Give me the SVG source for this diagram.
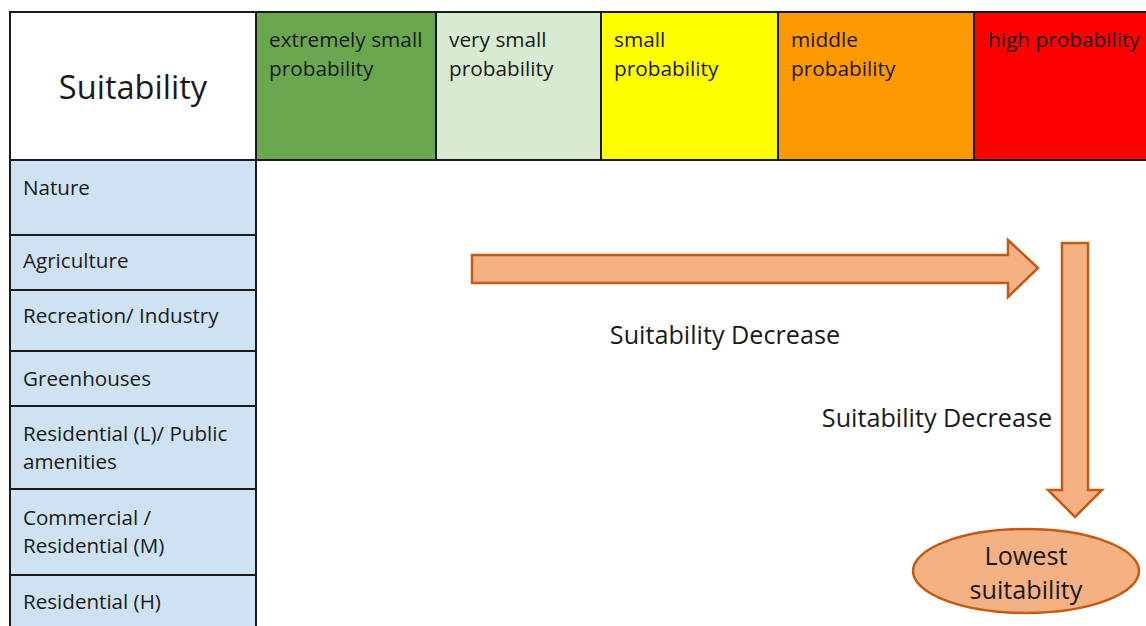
<svg xmlns="http://www.w3.org/2000/svg" width="1146" height="626" viewBox="0 0 1146 626">
  <style>
    .cell { stroke: #1a1a1a; stroke-width: 2; }
    .t { font-family: "Open Sans", "Liberation Sans", sans-serif; fill: #1a1a1a; }
    .hdr { font-size: 20.8px; }
    .row { font-size: 20.6px; }
    .big { font-size: 25.2px; }
    .flow { fill: #f4b183; stroke: #c55a11; stroke-width: 2.5; }
  </style>
  <rect width="1146" height="626" fill="#ffffff"/>

  <!-- header row -->
  <g id="header-suitability">
    <rect class="cell" x="10" y="12" width="246" height="148" fill="#ffffff"/>
    <text class="t" x="133" y="99" font-size="32.6" text-anchor="middle">Suitability</text>
  </g>
  <g id="col-extremely-small">
    <rect class="cell" x="256" y="12" width="180" height="148" fill="#6aa84f"/>
    <text class="t hdr" x="269" y="47">extremely small</text>
    <text class="t hdr" x="269" y="76">probability</text>
  </g>
  <g id="col-very-small">
    <rect class="cell" x="436" y="12" width="165" height="148" fill="#d9ead3"/>
    <text class="t hdr" x="449" y="47">very small</text>
    <text class="t hdr" x="449" y="76">probability</text>
  </g>
  <g id="col-small">
    <rect class="cell" x="601" y="12" width="177" height="148" fill="#ffff00"/>
    <text class="t hdr" x="614" y="47">small</text>
    <text class="t hdr" x="614" y="76">probability</text>
  </g>
  <g id="col-middle">
    <rect class="cell" x="778" y="12" width="196" height="148" fill="#ff9900"/>
    <text class="t hdr" x="791" y="47">middle</text>
    <text class="t hdr" x="791" y="76">probability</text>
  </g>
  <g id="col-high">
    <rect class="cell" x="974" y="12" width="180" height="148" fill="#ff0000"/>
    <text class="t hdr" x="988" y="47">high probability</text>
  </g>

  <!-- land-use rows -->
  <g id="row-nature">
    <rect class="cell" x="10" y="160" width="246" height="75" fill="#cfe2f3"/>
    <text class="t row" x="23" y="195">Nature</text>
  </g>
  <g id="row-agriculture">
    <rect class="cell" x="10" y="235" width="246" height="55" fill="#cfe2f3"/>
    <text class="t row" x="23" y="268">Agriculture</text>
  </g>
  <g id="row-recreation">
    <rect class="cell" x="10" y="290" width="246" height="61" fill="#cfe2f3"/>
    <text class="t row" x="23" y="323">Recreation/ Industry</text>
  </g>
  <g id="row-greenhouses">
    <rect class="cell" x="10" y="351" width="246" height="55" fill="#cfe2f3"/>
    <text class="t row" x="23" y="386">Greenhouses</text>
  </g>
  <g id="row-residential-l">
    <rect class="cell" x="10" y="406" width="246" height="83" fill="#cfe2f3"/>
    <text class="t row" x="23" y="441">Residential (L)/ Public</text>
    <text class="t row" x="23" y="469">amenities</text>
  </g>
  <g id="row-commercial">
    <rect class="cell" x="10" y="489" width="246" height="86" fill="#cfe2f3"/>
    <text class="t row" x="23" y="525">Commercial /</text>
    <text class="t row" x="23" y="553">Residential (M)</text>
  </g>
  <g id="row-residential-h">
    <rect class="cell" x="10" y="575" width="246" height="60" fill="#cfe2f3"/>
    <text class="t row" x="23" y="609">Residential (H)</text>
  </g>

  <!-- block arrows -->
  <g id="connectors">
    <polygon class="flow" points="472,255 1008,255 1008,240 1038,268 1008,297 1008,283 472,283"/>
    <polygon class="flow" points="1062,243 1088,243 1088,490 1102,490 1075,517 1048,490 1062,490"/>
  </g>
  <g id="label-horizontal">
    <text class="t big" x="725" y="344" text-anchor="middle">Suitability Decrease</text>
  </g>
  <g id="label-vertical">
    <text class="t big" x="937" y="427" text-anchor="middle">Suitability Decrease</text>
  </g>

  <g id="lowest-suitability">
    <ellipse class="flow" cx="1026" cy="571" rx="113" ry="42"/>
    <text class="t big" x="1026" y="565" text-anchor="middle">Lowest</text>
    <text class="t big" x="1026" y="599" text-anchor="middle">suitability</text>
  </g>
</svg>
